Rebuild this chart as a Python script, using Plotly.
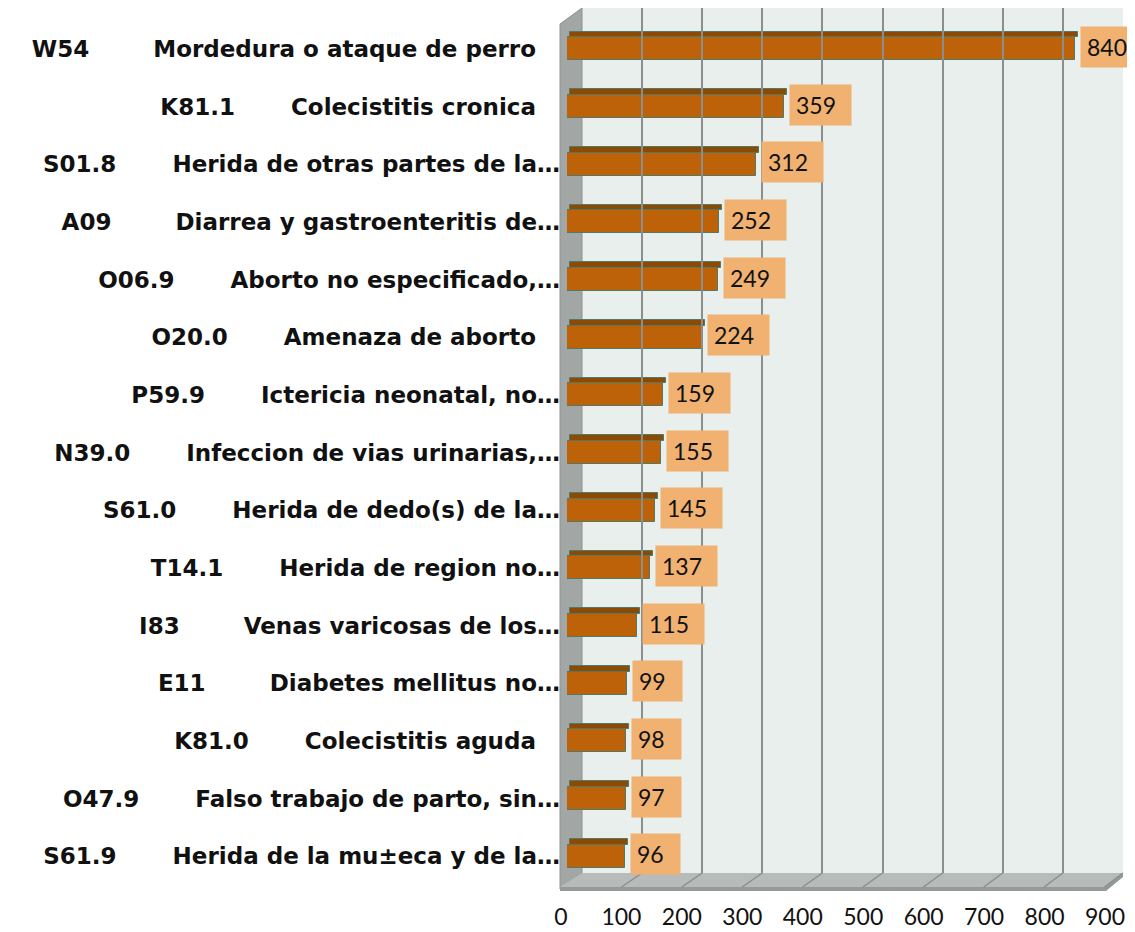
import plotly.graph_objects as go

# diagnosticos mas frecuentes (codigo CIE-10, descripcion, casos)
codes = ["W54", "K81.1", "S01.8", "A09", "O06.9", "O20.0", "P59.9", "N39.0",
         "S61.0", "T14.1", "I83", "E11", "K81.0", "O47.9", "S61.9"]
descriptions = ["Mordedura o ataque de perro", "Colecistitis cronica",
                "Herida de otras partes de la…", "Diarrea y gastroenteritis de…",
                "Aborto no especificado,…", "Amenaza de aborto",
                "Ictericia neonatal, no…", "Infeccion de vias urinarias,…",
                "Herida de dedo(s) de la…", "Herida de region no…",
                "Venas varicosas de los…", "Diabetes mellitus no…",
                "Colecistitis aguda", "Falso trabajo de parto, sin…",
                "Herida de la mu±eca y de la…"]
cases = [840, 359, 312, 252, 249, 224, 159, 155, 145, 137, 115, 99, 98, 97, 96]
x_ticks = [0, 100, 200, 300, 400, 500, 600, 700, 800, 900]

# the page body has an 8px margin, so the figure is shrunk and shifted by it
OFF = 8
W, H = 1135 - OFF, 932 - OFF
nb = "\u00a0"


def px(v):
    return (v - OFF) / W


def py(v):
    return 1 - (max(v, OFF) - OFF) / H


# code and description were separated by a tab in the original labels
labels = []
for c, d in zip(codes, descriptions):
    gap = nb * (8 if len(c) == 3 else 7)
    tail = "" if d.endswith("…") else nb * 3
    labels.append(c + gap + d + tail)

fig = go.Figure()

# front face of the bars
fig.add_trace(go.Bar(
    x=cases, y=labels, orientation="h", width=0.4,
    marker=dict(color="#bd6209", line=dict(color="#4f7a68", width=1)),
    hoverinfo="x+y", showlegend=False,
))
# top face (darker strip)
fig.add_trace(go.Bar(
    x=cases, y=labels, orientation="h", width=0.1, offset=-0.3, base=5,
    marker=dict(color="#8c4a04", line=dict(color="#4f7a68", width=1)),
    hoverinfo="skip", showlegend=False,
))
# empty trace to hold the back-wall subplot
fig.add_trace(go.Scatter(x=[], y=[], xaxis="x2", yaxis="y2",
                         showlegend=False, hoverinfo="skip"))

# value labels
for lab, v in zip(labels, cases):
    fig.add_annotation(
        x=v, y=lab, xref="x", yref="y", text=str(v), showarrow=False,
        xanchor="left", xshift=5, yshift=2, align="left",
        bgcolor="#f0b171", borderpad=6, width=12 * len(str(v)) + 13,
        font=dict(family="Lato", size=23, color="#111111"),
    )

shapes = []
# back wall
shapes.append(dict(type="rect", xref="paper", yref="paper", layer="below",
                   x0=px(582), x1=px(1123), y0=py(873), y1=py(8),
                   fillcolor="#e9efed", line=dict(width=0)))
# left wall
shapes.append(dict(type="path", xref="paper", yref="paper", layer="below",
                   path=f"M {px(560)},{py(24)} L {px(582)},{py(8)} L {px(582)},{py(873)} "
                        f"L {px(560)},{py(889)} Z",
                   fillcolor="#a2a6a5", line=dict(color="#8d9190", width=1)))
# floor
shapes.append(dict(type="path", xref="paper", yref="paper", layer="below",
                   path=f"M {px(582)},{py(873)} L {px(1123)},{py(873)} L {px(1105)},{py(887)} "
                        f"L {px(560)},{py(887)} Z",
                   fillcolor="#b7bbb9", line=dict(width=0)))
shapes.append(dict(type="path", xref="paper", yref="paper", layer="below",
                   path=f"M {px(560)},{py(887)} L {px(1105)},{py(887)} L {px(1123)},{py(873)} "
                        f"L {px(1123)},{py(877)} L {px(1106)},{py(891)} L {px(560)},{py(891)} Z",
                   fillcolor="#959998", line=dict(width=0)))
# floor grid lines
for k in range(1, len(x_ticks)):
    shapes.append(dict(type="line", xref="paper", yref="paper", layer="below",
                       x0=px(582 + 60.1 * k), y0=py(873),
                       x1=px(561 + 60.4 * k), y1=py(887),
                       line=dict(color="#8a8e8d", width=1.5)))

fig.update_layout(
    width=W, height=H,
    margin=dict(l=0, r=0, t=0, b=0, autoexpand=False),
    paper_bgcolor="white", plot_bgcolor="rgba(0,0,0,0)",
    barmode="overlay", bargap=0,
    shapes=shapes,
    font=dict(family="Lato", color="#111111"),
    xaxis=dict(domain=[px(567), px(1111)], range=[0, 900], tickvals=x_ticks,
               showgrid=False, zeroline=False, showline=False, ticks="",
               tickfont=dict(family="Lato", size=23), ticklabelshift=-6,
               ticklabelstandoff=16, anchor="y", automargin=False),
    yaxis=dict(domain=[py(885), py(20)], autorange="reversed",
               showgrid=False, zeroline=False, showline=False, ticks="",
               tickfont=dict(family="DejaVu Sans", size=23, weight="bold"),
               ticklabelstandoff=6, anchor="x", automargin=False),
    xaxis2=dict(domain=[px(582), px(1123)], range=[0, 900], tickvals=x_ticks,
                showgrid=True, gridcolor="#8a8e8d", gridwidth=2,
                zeroline=False, showline=False, showticklabels=False,
                anchor="y2", automargin=False),
    yaxis2=dict(domain=[py(873), py(8)], range=[0, 1], showgrid=False,
                zeroline=False, showline=False, showticklabels=False,
                anchor="x2", automargin=False),
)

fig.write_html("out.html")
